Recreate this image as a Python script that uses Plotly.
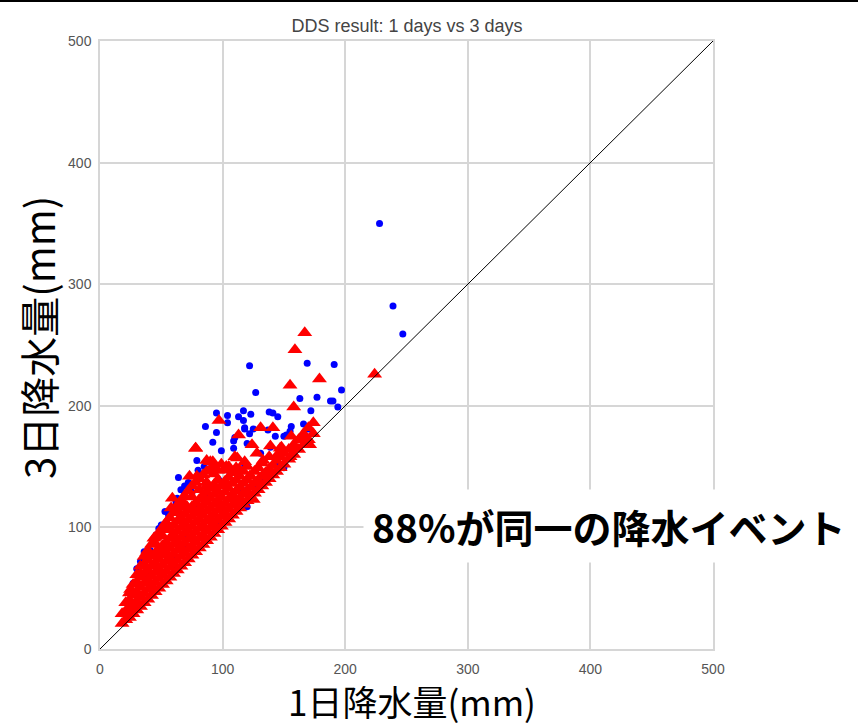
import plotly.graph_objects as go

# ---- data ----
# blue circles: 1-day events
blue_x = [228, 239, 247, 122, 169, 191, 127, 197, 163, 177, 188, 190, 194, 172,
          95, 104, 117, 123, 138, 141, 145, 113, 117, 104, 86, 95, 118, 92, 156,
          166, 170, 125, 155, 150, 137, 118, 110, 120, 139, 131, 109, 118, 150,
          133, 128, 112, 106, 97, 82, 75, 69, 87, 76, 61, 56, 52, 120, 95, 79,
          46, 41, 33, 27, 23, 39, 61, 71, 99, 79, 64, 69, 53, 78, 112, 120, 106,
          50, 63, 122, 152, 109, 143, 115, 113, 91, 60, 85, 100, 130, 144, 70,
          66, 72, 80, 85, 62, 75, 57, 48, 36, 30]
blue_y = [350, 282, 259, 233, 235, 234, 211, 213, 206, 207, 204, 204, 199, 196,
          194, 192, 196, 193, 195, 194, 191, 191, 188, 186, 183, 178, 182, 170, 183,
          185, 181, 181, 179, 175, 180, 181, 174, 169, 166, 161, 165, 151, 149,
          139, 134, 131, 145, 139, 142, 134, 128, 125, 117, 117, 110, 102, 117, 103, 90,
          94, 81, 72, 54, 25, 60, 68, 84, 163, 155, 141, 134, 113, 117, 116, 131, 147,
          102, 124, 177, 176, 171, 175, 130, 120, 110, 75, 100, 112, 140, 152, 90,
          131, 137, 147, 150, 121, 129, 112, 99, 80, 66]

# red triangles: 3-day events that are the same rain event
red_out_x = [167, 159, 224, 179, 155, 158, 97, 131, 141, 113, 156, 167, 78, 170,
             124, 139, 148, 160, 171, 128, 87, 92, 112, 118, 133, 145, 155, 73, 79,
             103, 114, 122, 139, 87, 101, 59, 71, 58, 65, 82, 95, 109, 117, 125,
             44, 54, 38, 49, 25, 22, 19, 33, 110, 147, 78, 90]
red_out_y = [260, 246, 226, 222, 217, 199, 188, 182, 182, 176, 175, 173, 165, 168,
             168, 167, 166, 165, 168, 161, 155, 154, 157, 154, 155, 160, 158, 142, 142,
             150, 147, 142, 145, 134, 134, 124, 117, 116, 112, 114, 120, 125, 128, 123,
             91, 98, 79, 81, 49, 32, 29, 62, 158, 165, 165, 154]

red_x = [18, 18,
         21, 21, 21,
         24, 24, 24, 24,
         27, 27, 27, 27,
         30, 30, 30, 30, 30,
         33, 33, 33, 33, 33,
         36, 36, 36, 36, 36, 36,
         39, 39, 39, 39, 39, 39,
         42, 42, 42, 42, 42, 42,
         45, 45, 45, 45, 45, 45, 45,
         48, 48, 48, 48, 48, 48,
         51, 51, 51, 51, 51, 51, 51,
         54, 54, 54, 54, 54, 54,
         57, 57, 57, 57, 57, 57, 57,
         60, 60, 60, 60, 60, 60, 60,
         63, 63, 63, 63, 63, 63, 63, 63,
         66, 66, 66, 66, 66, 66, 66,
         69, 69, 69, 69, 69, 69, 69, 69,
         72, 72, 72, 72, 72, 72, 72,
         75, 75, 75, 75, 75, 75, 75, 75,
         78, 78, 78, 78, 78, 78, 78,
         81, 81, 81, 81, 81, 81, 81, 81,
         84, 84, 84, 84, 84, 84, 84,
         87, 87, 87, 87, 87, 87, 87, 87,
         90, 90, 90, 90, 90, 90, 90,
         93, 93, 93, 93, 93, 93, 93, 93,
         96, 96, 96, 96, 96, 96, 96,
         99, 99, 99, 99, 99, 99,
         102, 102, 102, 102, 102, 102,
         105, 105, 105, 105, 105, 105,
         108, 108, 108, 108, 108,
         111, 111, 111, 111, 111,
         114, 114, 114, 114,
         117, 117, 117, 117,
         120, 120, 120, 120,
         123, 123, 123,
         126, 126, 126,
         129, 129, 129,
         132, 132, 132,
         135, 135,
         138, 138, 138,
         141, 141,
         144, 144,
         147, 147,
         150, 150,
         154, 154,
         158, 158,
         162, 162,
         166, 166,
         170, 170,
         174, 174]
red_y = [21, 29,
         24, 31, 38,
         26, 33, 40, 46,
         29, 36, 44, 53,
         32, 39, 47, 55, 61,
         35, 43, 51, 59, 68,
         38, 46, 54, 62, 70, 76,
         41, 49, 57, 65, 73, 81,
         44, 52, 60, 68, 76, 86,
         47, 55, 63, 71, 79, 87, 92,
         50, 58, 66, 74, 82, 95,
         53, 61, 69, 77, 85, 93, 100,
         56, 64, 72, 80, 88, 104,
         59, 67, 75, 83, 91, 99, 108,
         62, 70, 78, 86, 94, 102, 112,
         65, 73, 81, 89, 97, 105, 113, 118,
         68, 76, 84, 92, 100, 108, 122,
         71, 79, 87, 95, 103, 111, 119, 126,
         74, 82, 90, 98, 106, 114, 130,
         77, 85, 93, 101, 109, 117, 125, 134,
         80, 88, 96, 104, 112, 120, 137,
         83, 91, 99, 107, 115, 123, 131, 140,
         86, 94, 102, 110, 118, 126, 143,
         89, 97, 105, 113, 121, 129, 137, 146,
         92, 100, 108, 116, 124, 132, 148,
         95, 103, 111, 119, 127, 135, 144, 150,
         98, 106, 114, 122, 130, 139, 147,
         101, 109, 117, 125, 134, 152,
         104, 112, 120, 129, 138, 147,
         107, 115, 123, 132, 141, 150,
         110, 118, 127, 136, 145,
         113, 121, 130, 139, 149,
         116, 124, 133, 142,
         119, 127, 136, 146,
         122, 130, 139, 150,
         125, 133, 142,
         128, 136, 146,
         131, 139, 149,
         134, 142, 153,
         137, 145,
         140, 148, 158,
         143, 151,
         146, 155,
         149, 158,
         152, 161,
         156, 164,
         160, 168,
         164, 172,
         168, 177,
         172, 182,
         177, 186]

diag = [0, 500]
ticks = [0, 100, 200, 300, 400, 500]

title_text = "DDS result: 1 days vs 3 days"
x_title = "1日降水量(mm)"
y_title = "3日降水量(mm)"
note_text = "88%が同一の降水イベント"

fig = go.Figure()
fig.add_trace(go.Scatter(x=blue_x, y=blue_y, mode="markers",
                         marker=dict(symbol="circle", size=7, color="#0000ff",
                                     line=dict(width=0)),
                         showlegend=False))
fig.add_trace(go.Scatter(x=red_x + red_out_x, y=red_y + red_out_y, mode="markers",
                         marker=dict(symbol="triangle-up", size=13, color="#ff0000",
                                     line=dict(width=0)),
                         showlegend=False))
fig.add_trace(go.Scatter(x=diag, y=diag, mode="lines",
                         line=dict(color="black", width=1), showlegend=False))

grid = "#d6d6d6"
tick_font = dict(family="Liberation Sans, Arial", size=14, color="#555")
PW, PH = 613, 608
fig.update_layout(
    width=858, height=727,
    margin=dict(l=100, r=145, t=41, b=78, autoexpand=False),
    paper_bgcolor="white", plot_bgcolor="white",
    title=dict(text=title_text, x=(407 / 858), xanchor="center", y=1 - 26 / 727,
               yanchor="middle", font=dict(family="Liberation Sans, Arial", size=18, color="#444")),
    font=dict(family="Liberation Sans, Arial", color="#555"),
    xaxis=dict(range=[0, 500], tickvals=ticks, showgrid=True, gridcolor=grid, gridwidth=1.5,
               zeroline=False, showline=True, linecolor=grid, linewidth=1.5, mirror=True,
               tickfont=tick_font, ticks="", ticklabelstandoff=6, automargin=False),
    yaxis=dict(range=[0, 500], tickvals=ticks, showgrid=True, gridcolor=grid, gridwidth=1.5,
               zeroline=False, showline=True, linecolor=grid, linewidth=1.5, mirror=True,
               tickfont=tick_font, ticks="", ticklabelstandoff=4, automargin=False),
    shapes=[dict(type="line", xref="paper", yref="paper",
                 x0=-100 / PW, x1=758 / PW, y0=(649 - 1) / PH, y1=(649 - 1) / PH,
                 line=dict(color="black", width=2))],
    annotations=[
        dict(text=note_text, x=415, y=101, xref="x", yref="y",
             xanchor="center", yanchor="middle", showarrow=False,
             bgcolor="white", borderpad=8,
             font=dict(family="Noto Sans CJK JP", size=39, color="black", weight="bold")),
        dict(text=x_title, x=(412 - 100) / PW, y=-(727 - 649) / PH, xref="paper", yref="paper",
             xanchor="center", yanchor="bottom", showarrow=False, borderpad=0,
             font=dict(family="Noto Sans CJK JP", size=35, color="black")),
        dict(text=y_title, x=-(100 - 38) / PW, y=(649 - 338) / PH, xref="paper", yref="paper",
             xanchor="center", yanchor="middle", showarrow=False, textangle=-90,
             font=dict(family="Noto Sans CJK JP", size=40, color="black")),
    ],
)

fig.write_html("out.html")
